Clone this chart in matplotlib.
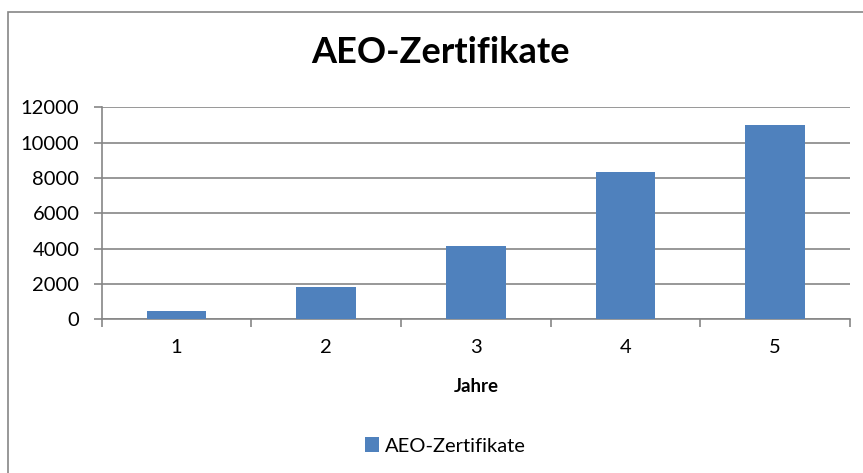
import numpy as np
import matplotlib
matplotlib.use('Agg')
import matplotlib.pyplot as plt
from matplotlib.patches import Rectangle

plt.rcParams['font.family'] = ['Lato', 'DejaVu Sans']

years = [1, 2, 3, 4, 5]
certificates = [490, 1810, 4150, 8340, 10980]
y_ticks = [0, 2000, 4000, 6000, 8000, 10000, 12000]

bar_color = '#4F81BD'
line_color = '#868686'

fig = plt.figure(figsize=(8.63, 4.73), dpi=100)
ax = fig.add_axes([0.1178, 0.325, 0.985 - 0.1178, 0.773 - 0.325])

x = np.arange(len(years)) + 1
ax.bar(x, certificates, width=0.4, color=bar_color, label='AEO-Zertifikate', zorder=3)

ax.set_xlim(0.5, len(years) + 0.5)
ax.set_ylim(0, 12000)
ax.set_yticks(y_ticks)
ax.set_yticklabels([str(v) for v in y_ticks], fontsize=14.5)
ax.yaxis.grid(True, color=line_color, linewidth=1.2, zorder=0)

# category boundaries carry the tick marks, centres carry the labels
ax.set_xticks(np.arange(len(years) + 1) + 0.5)
ax.set_xticklabels([])
ax.set_xticks(x, minor=True)
ax.set_xticklabels([str(y) for y in years], minor=True, fontsize=14.5)
ax.tick_params(axis='x', which='minor', length=0, pad=14)
ax.tick_params(axis='x', which='major', length=6, color=line_color, width=1.2)
ax.tick_params(axis='y', length=6, color=line_color, width=1.2, pad=10)

for side in ['top', 'right']:
    ax.spines[side].set_visible(False)
for side in ['left', 'bottom']:
    ax.spines[side].set_color(line_color)
    ax.spines[side].set_linewidth(1.2)

ax.set_xlabel('Jahre', fontsize=13.5, fontweight='bold', labelpad=16)

fig.text(0.51, 0.888, 'AEO-Zertifikate', ha='center', va='center',
         fontsize=26, fontweight='bold')

fig.legend(loc='center', bbox_to_anchor=(0.516, 0.057), frameon=False,
           fontsize=14.5, handlelength=0.7, handleheight=0.7, handletextpad=0.3)

fig.patches.append(Rectangle((8 / 863, -0.1), 1.2, 1 - 12 / 473 + 0.1,
                             transform=fig.transFigure, fill=False,
                             edgecolor=line_color, linewidth=1.2))

fig.savefig('out.png', dpi=100)
